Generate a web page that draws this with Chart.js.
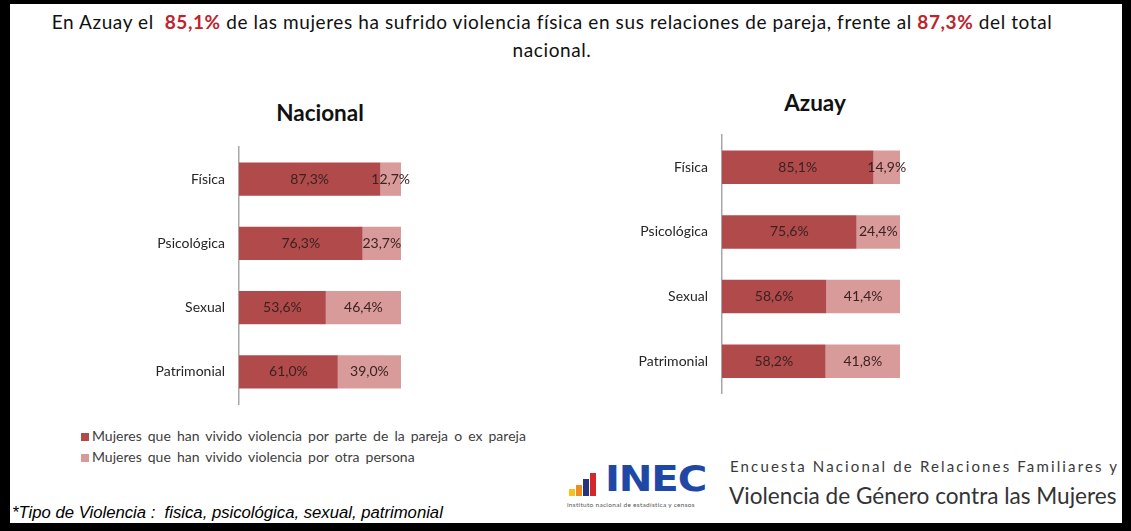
<!DOCTYPE html>
<html>
<head>
<meta charset="utf-8">
<script src="https://cdn.jsdelivr.net/npm/chart.js"></script>
<style>
body{margin:0;background:#000;}
#marco{position:relative;width:1131px;height:531px;background:#000;overflow:hidden;font-family:Lato,sans-serif;}
#hoja{position:absolute;left:10px;top:4px;width:1112px;height:519px;background:#fff;}
.abs{position:absolute;}
#cabecera{left:10px;top:8px;width:1084px;text-align:center;font-size:19px;letter-spacing:0.6px;line-height:28px;color:#111;}
#cabecera b{color:#c0232b;}
.titulo{font-weight:bold;font-size:22.5px;color:#111;text-align:center;width:200px;}
#leyenda{left:81px;top:426px;font-size:14px;word-spacing:2.5px;color:#404040;}
#leyenda div{height:21px;line-height:19px;white-space:nowrap;}
#leyenda span{display:inline-block;width:8px;height:8px;margin-right:3px;vertical-align:0px;}
#nota{left:12px;top:503px;font-family:"Liberation Sans",Arial,sans-serif;font-style:italic;font-size:16.7px;color:#000;}
#logo .barra{position:absolute;bottom:0;width:6px;}
#inec{left:605px;top:459px;font-family:"DejaVu Sans",sans-serif;font-weight:bold;font-size:35px;color:#1f48a6;transform:scaleX(1.15);transform-origin:left top;letter-spacing:-1px;}
#inecsub{left:567px;top:501px;font-size:6.5px;color:#555;letter-spacing:0.3px;}
#encuesta1{left:730px;top:457px;font-size:15px;letter-spacing:2.15px;color:#3a3a3a;}
#encuesta2{left:729px;top:482px;font-size:22.6px;color:#333;}
</style>
</head>
<body>
<div id="marco">
  <div id="hoja"></div>
  <div id="cabecera" class="abs">En Azuay el&nbsp; <b>85,1%</b> de las mujeres ha sufrido violencia física en sus relaciones de pareja, frente al <b>87,3%</b> del total<br>nacional.</div>
  <div class="abs titulo" style="left:220px;top:99px;">Nacional</div>
  <div class="abs titulo" style="left:715px;top:89px;">Azuay</div>
  <canvas id="gNacional" class="abs" width="337" height="270" style="left:73px;top:140px;"></canvas>
  <canvas id="gAzuay" class="abs" width="310" height="273" style="left:600px;top:127px;"></canvas>
  <div id="leyenda" class="abs"></div>
  <div id="logo" class="abs" style="left:569px;top:471px;width:34px;height:25px;">
    <div class="barra" style="left:0px;height:7px;background:#f2c318;"></div>
    <div class="barra" style="left:7px;height:11px;background:#ef8c1c;"></div>
    <div class="barra" style="left:14px;height:17px;background:#26357a;"></div>
    <div class="barra" style="left:21px;height:23px;background:#d2282b;"></div>
  </div>
  <div id="inec" class="abs">INEC</div>
  <div id="inecsub" class="abs">instituto nacional de estadística y censos</div>
  <div id="encuesta1" class="abs">Encuesta Nacional de Relaciones Familiares y</div>
  <div id="encuesta2" class="abs">Violencia de Género contra las Mujeres</div>
  <div id="nota" class="abs">*Tipo de Violencia :&nbsp; fisica, psicológica, sexual, patrimonial</div>
</div>
<script>
// datos
var categorias = ['Física', 'Psicológica', 'Sexual', 'Patrimonial'];
var series = ['Mujeres que han vivido violencia por parte de la pareja o ex pareja',
              'Mujeres que han vivido violencia por otra persona'];
var nacionalPareja = [87.3, 76.3, 53.6, 61.0];
var nacionalOtra = [12.7, 23.7, 46.4, 39.0];
var azuayPareja = [85.1, 75.6, 58.6, 58.2];
var azuayOtra = [14.9, 24.4, 41.4, 41.8];

var colores = ['#b14a4b', '#d99a9a'];

function formato(v) {
    return v.toFixed(1).replace('.', ',') + '%';
}

// etiquetas de valor dentro de las barras
var etiquetasValor = {
    id: 'etiquetasValor',
    afterDatasetsDraw: function(chart) {
        var ctx = chart.ctx;
        ctx.save();
        ctx.font = '14px Lato';
        ctx.fillStyle = '#3a2222';
        ctx.textAlign = 'center';
        ctx.textBaseline = 'middle';
        chart.data.datasets.forEach(function(ds, i) {
            chart.getDatasetMeta(i).data.forEach(function(bar, j) {
                var p = bar.getProps(['x', 'y', 'base'], true);
                ctx.fillText(formato(ds.data[j]), (p.x + p.base) / 2, p.y);
            });
        });
        ctx.restore();
    }
};

function crearGrafico(id, pareja, otra, anchoEje, relleno) {
    return new Chart(document.getElementById(id), {
        type: 'bar',
        data: {
            labels: categorias,
            datasets: [{
                label: series[0],
                data: pareja,
                backgroundColor: colores[0],
                borderWidth: 0,
                categoryPercentage: 1,
                barPercentage: 0.52
            }, {
                label: series[1],
                data: otra,
                backgroundColor: colores[1],
                borderWidth: 0,
                categoryPercentage: 1,
                barPercentage: 0.52
            }]
        },
        options: {
            responsive: false,
            animation: false,
            indexAxis: 'y',
            layout: { padding: relleno, autoPadding: false },
            plugins: {
                tooltip: { enabled: false },
                legend: { display: false }
            },
            scales: {
                x: {
                    stacked: true,
                    min: 0,
                    max: 100,
                    display: false
                },
                y: {
                    stacked: true,
                    grid: { display: false, drawTicks: false },
                    border: { display: true, color: '#a8a8a8', width: 1.5 },
                    ticks: {
                        padding: 14,
                        color: '#262626',
                        font: { family: 'Lato', size: 14 }
                    },
                    afterFit: function(s) {
                        s.width = anchoEje;
                        s.paddingTop = 0;
                        s.paddingBottom = 0;
                    }
                }
            }
        },
        plugins: [etiquetasValor]
    });
}

var gNac = crearGrafico('gNacional', nacionalPareja, nacionalOtra, 166, { top: 7, right: 9, bottom: 6, left: 0 });
crearGrafico('gAzuay', azuayPareja, azuayOtra, 122, { top: 8, right: 10, bottom: 6.5, left: 0 });

// leyenda a partir de las series del grafico
var leyenda = document.getElementById('leyenda');
gNac.data.datasets.forEach(function(ds) {
    var fila = document.createElement('div');
    var caja = document.createElement('span');
    caja.style.background = ds.backgroundColor;
    fila.appendChild(caja);
    fila.appendChild(document.createTextNode(ds.label));
    leyenda.appendChild(fila);
});
</script>
</body>
</html>
